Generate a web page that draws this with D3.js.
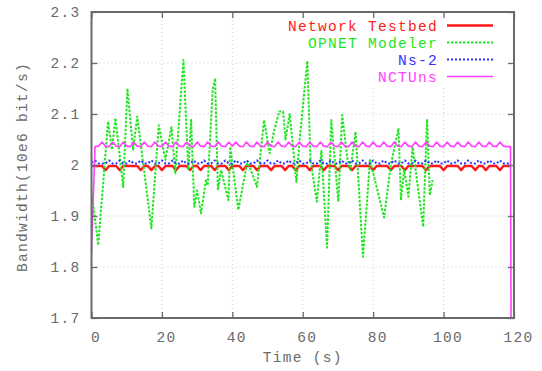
<!DOCTYPE html>
<html>
<head>
<meta charset="utf-8">
<script src="https://cdn.jsdelivr.net/npm/d3@7"></script>
<style>
  html, body { margin: 0; padding: 0; background: #fff; }
  svg { display: block; font-family: "Liberation Mono", "DejaVu Sans Mono", monospace; }
  text { letter-spacing: 1.3px; }
</style>
</head>
<body>
<svg id="chart" width="542" height="371"></svg>
<script>
// ---- data -------------------------------------------------------------
const seriesNames = ["Network Testbed", "OPNET Modeler", "Ns-2", "NCTUns"];
const seriesColors = ["#ff1a1a", "#1ee61e", "#3030ff", "#ff40ff"];

const xTicks = [0, 20, 40, 60, 80, 100, 120];
const xTickLabels = ["0", "20", "40", "60", "80", "100", "120"];
const yTicks = [1.7, 1.8, 1.9, 2.0, 2.1, 2.2, 2.3];
const yTickLabels = ["1.7", "1.8", "1.9", "2", "2.1", "2.2", "2.3"];

// one sample per second, t = 0..119
const testbed = [
  1.998,1.998,1.998,1.998,1.990,1.998,1.998,1.998,1.990,1.998,
  1.998,1.998,1.998,1.998,1.990,1.998,1.998,1.990,1.998,1.998,
  1.990,1.998,1.998,1.998,1.990,1.998,1.998,1.998,1.990,1.998,
  1.998,1.990,1.998,1.998,1.998,1.990,1.998,1.998,1.998,1.990,
  1.998,1.998,1.998,1.990,1.998,1.998,1.998,1.990,1.998,1.998,
  1.998,1.990,1.998,1.998,1.998,1.990,1.998,1.998,1.990,1.998,
  1.998,1.998,1.990,1.998,1.998,1.998,1.990,1.998,1.998,1.998,
  1.990,1.998,1.998,1.998,1.990,1.998,1.998,1.998,1.998,1.998,
  1.990,1.998,1.998,1.998,1.998,1.990,1.998,1.998,1.998,1.990,
  1.998,1.998,1.998,1.998,1.998,1.990,1.998,1.998,1.998,1.998,
  1.990,1.998,1.998,1.998,1.998,1.990,1.998,1.998,1.998,1.990,
  1.998,1.998,1.990,1.998,1.998,1.998,1.990,1.998,1.998,1.998
];

const ns2 = [
  2.005,2.009,2.003,2.003,2.003,2.009,2.003,2.003,2.009,2.003,
  2.003,2.009,2.003,2.003,2.009,2.003,2.003,2.009,2.003,2.003,
  2.009,2.003,2.003,2.009,2.003,2.003,2.009,2.003,2.003,2.009,
  2.003,2.003,2.009,2.003,2.003,2.009,2.003,2.003,2.009,2.003,
  2.003,2.009,2.003,2.003,2.009,2.003,2.003,2.009,2.003,2.003,
  2.009,2.003,2.003,2.009,2.003,2.003,2.009,2.003,2.003,2.009,
  2.003,2.003,2.009,2.003,2.003,2.009,2.003,2.003,2.009,2.003,
  2.003,2.009,2.003,2.003,2.009,2.003,2.003,2.009,2.003,2.003,
  2.009,2.003,2.003,2.009,2.003,2.003,2.009,2.003,2.003,2.009,
  2.003,2.003,2.009,2.003,2.003,2.009,2.003,2.003,2.009,2.003,
  2.003,2.009,2.003,2.003,2.009,2.003,2.003,2.009,2.003,2.003,
  2.009,2.003,2.003,2.009,2.003,2.003,2.009,2.003,2.003,2.003
];

// t = 0..120 (the run stops just before 120 s)
const nctuns = [
  1.830,2.036,2.037,2.045,2.037,2.036,2.045,2.037,2.036,2.045,
  2.037,2.036,2.045,2.037,2.036,2.045,2.037,2.036,2.045,2.037,
  2.036,2.045,2.037,2.036,2.045,2.037,2.036,2.045,2.037,2.036,
  2.045,2.037,2.036,2.045,2.037,2.036,2.045,2.037,2.036,2.045,
  2.037,2.045,2.037,2.036,2.045,2.037,2.036,2.045,2.037,2.036,
  2.045,2.037,2.036,2.045,2.037,2.036,2.045,2.037,2.036,2.045,
  2.037,2.036,2.045,2.037,2.036,2.045,2.037,2.036,2.045,2.037,
  2.036,2.045,2.037,2.036,2.045,2.037,2.036,2.045,2.037,2.036,
  2.045,2.037,2.036,2.045,2.037,2.036,2.045,2.037,2.036,2.045,
  2.037,2.036,2.045,2.037,2.036,2.045,2.037,2.036,2.045,2.037,
  2.036,2.045,2.037,2.036,2.045,2.037,2.036,2.045,2.037,2.036,
  2.045,2.037,2.036,2.045,2.037,2.036,2.045,2.037,2.036,2.036,
  0
];

// OPNET samples at irregular times
const opnetTime = [
  0, 1.9, 4.7, 5.8, 6.8, 9.0, 10.2, 11.8, 13.0, 17.0,
  19.1, 21.0, 22.7, 23.8, 26.1, 27.5, 28.3, 29.2, 30.0, 31.1,
  32.5, 33.0, 34.4, 35.1, 35.9, 36.8, 38.9, 39.4, 41.7, 44.3,
  47.0, 49.0, 50.6, 51.8, 53.3, 54.4, 55.1, 56.3, 58.2, 59.1,
  61.3, 62.2, 64.0, 65.3, 66.9, 68.1, 70.1, 71.2, 72.6, 73.5,
  75.0, 77.1, 79.1, 83.1, 85.0, 87.2, 87.9, 88.8, 90.0, 91.2,
  94.2, 95.3, 96.1, 96.9
];
const opnetValue = [
  1.950, 1.843, 2.085, 2.030, 2.092, 1.957, 2.150, 2.030, 2.095, 1.876,
  2.078, 2.010, 2.074, 1.984, 2.206, 1.990, 2.088, 1.918, 1.950, 1.905,
  1.970, 1.960, 2.147, 2.170, 1.951, 1.990, 1.931, 2.036, 1.912, 2.008,
  1.957, 2.088, 2.023, 2.065, 2.105, 2.105, 2.050, 2.100, 1.967, 2.049,
  2.204, 2.010, 1.928, 2.028, 1.838, 2.088, 1.928, 2.098, 2.016, 1.990,
  2.065, 1.820, 2.010, 1.897, 2.000, 2.072, 1.931, 1.990, 1.938, 2.035,
  1.879, 2.090, 1.941, 1.970
];

// ---- layout -----------------------------------------------------------
const svg = d3.select("#chart");
const plot = { left: 91.5, right: 514, top: 12, bottom: 318 };
const axisColor = "#6a6a6a";
const textColor = "#6a6a6a";
const fontSize = 14.5;

const x = d3.scaleLinear().domain([0, 120]).range([plot.left, plot.right]);
const y = d3.scaleLinear().domain([1.7, 2.3]).range([plot.bottom, plot.top]);

// grid
const grid = svg.append("g").attr("stroke", "#cfcfcf").attr("stroke-width", 1)
  .attr("stroke-dasharray", "1,3");
grid.selectAll("line.gx").data(xTicks.slice(1, -1)).join("line")
  .attr("x1", d => x(d)).attr("x2", d => x(d))
  .attr("y1", plot.top).attr("y2", plot.bottom);
grid.selectAll("line.gy").data(yTicks.slice(1, -1)).join("line")
  .attr("x1", plot.left).attr("x2", plot.right)
  .attr("y1", d => y(d)).attr("y2", d => y(d));

// key area is kept clear of grid lines
svg.append("rect").attr("x", 280).attr("y", plot.top + 1)
  .attr("width", plot.right - 281).attr("height", 74).attr("fill", "#fff");

// clip region for series
svg.append("clipPath").attr("id", "plotclip").append("rect")
  .attr("x", plot.left).attr("y", plot.top)
  .attr("width", plot.right - plot.left).attr("height", plot.bottom - plot.top);

const line = d3.line().x(d => x(d[0])).y(d => y(d[1]));

const seriesData = [
  testbed.map((v, i) => [i, v]),
  opnetTime.map((t, i) => [t, opnetValue[i]]),
  ns2.map((v, i) => [i, v]),
  nctuns.map((v, i) => [i, v])
];
const seriesStyle = [
  { width: 2.4, dash: null },
  { width: 2.0, dash: "2.5,1.5" },
  { width: 2.0, dash: "2,2" },
  { width: 1.6, dash: null }
];

const lines = svg.append("g").attr("clip-path", "url(#plotclip)");
seriesData.forEach((data, k) => {
  lines.append("path")
    .datum(data)
    .attr("d", line)
    .attr("fill", "none")
    .attr("stroke", seriesColors[k])
    .attr("stroke-width", seriesStyle[k].width)
    .attr("stroke-dasharray", seriesStyle[k].dash)
    .attr("stroke-linejoin", "round");
});

// axes with inward ticks on all four sides
function styleAxis(g) {
  g.select(".domain").remove();
  g.selectAll(".tick line").attr("stroke", axisColor).attr("stroke-width", 1.3);
  g.selectAll(".tick text").attr("fill", textColor)
    .attr("font-family", "Liberation Mono, DejaVu Sans Mono, monospace")
    .attr("font-size", fontSize);
}

svg.append("g").attr("transform", `translate(${plot.left},0)`)
  .call(d3.axisLeft(y).tickValues(yTicks).tickSize(-6).tickPadding(11)
    .tickFormat((d, i) => yTickLabels[i]))
  .call(styleAxis);
svg.append("g").attr("transform", `translate(${plot.right},0)`)
  .call(d3.axisRight(y).tickValues(yTicks).tickSize(-6).tickFormat(""))
  .call(styleAxis);
svg.append("g").attr("transform", `translate(0,${plot.bottom})`)
  .call(d3.axisBottom(x).tickValues(xTicks).tickSize(-6).tickPadding(14)
    .tickFormat((d, i) => xTickLabels[i]))
  .call(styleAxis)
  .call(g => g.selectAll(".tick text").attr("dx", 4));
svg.append("g").attr("transform", `translate(0,${plot.top})`)
  .call(d3.axisTop(x).tickValues(xTicks).tickSize(-6).tickFormat(""))
  .call(styleAxis);

// frame
svg.append("rect")
  .attr("x", plot.left).attr("y", plot.top)
  .attr("width", plot.right - plot.left).attr("height", plot.bottom - plot.top)
  .attr("fill", "none").attr("stroke", axisColor).attr("stroke-width", 2);

// axis titles
svg.append("text")
  .attr("x", (plot.left + plot.right) / 2).attr("y", 362)
  .attr("text-anchor", "middle").attr("fill", textColor)
  .attr("font-size", fontSize)
  .text("Time (s)");
svg.append("text")
  .attr("transform", `translate(27,${(plot.top + plot.bottom) / 2 + 2}) rotate(-90)`)
  .attr("text-anchor", "middle").attr("fill", textColor)
  .attr("font-size", fontSize)
  .text("Bandwidth(10e6 bit/s)");

// key
const key = svg.append("g");
seriesNames.forEach((name, k) => {
  const cy = 25.5 + k * 17;
  key.append("text")
    .attr("x", 438).attr("y", cy).attr("dy", "0.35em")
    .attr("text-anchor", "end").attr("fill", seriesColors[k])
    .attr("font-size", fontSize)
    .text(name);
  key.append("line")
    .attr("x1", 447).attr("x2", 493).attr("y1", cy).attr("y2", cy)
    .attr("stroke", seriesColors[k])
    .attr("stroke-width", seriesStyle[k].width)
    .attr("stroke-dasharray", seriesStyle[k].dash);
});
</script>
</body>
</html>
